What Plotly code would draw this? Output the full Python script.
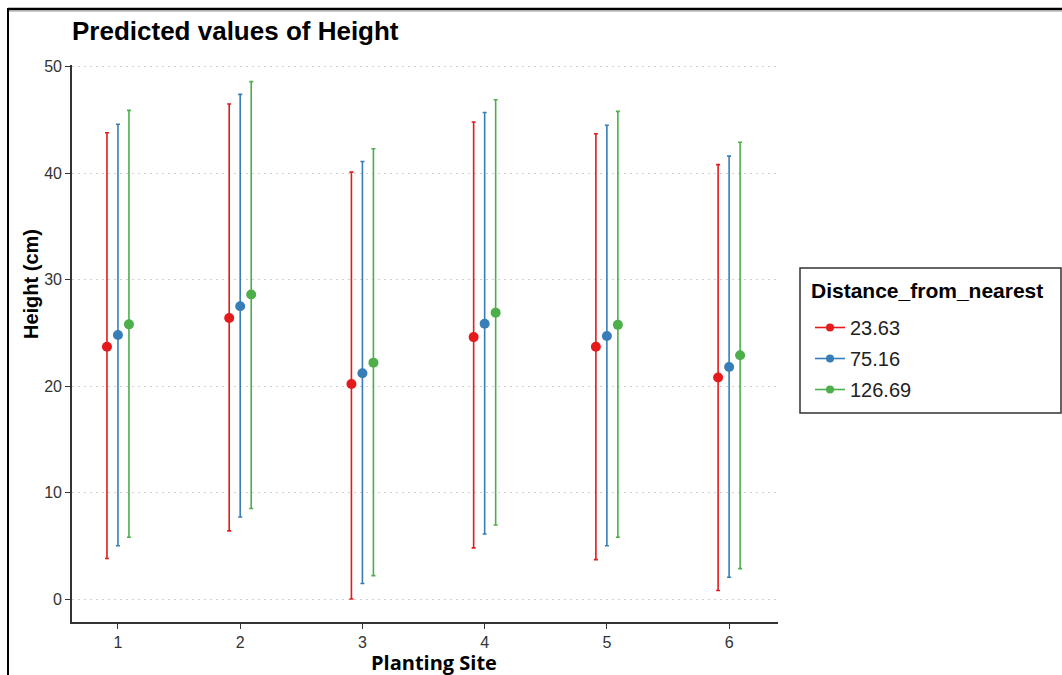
import plotly.graph_objects as go

# Planting sites on the x axis
sites = [1, 2, 3, 4, 5, 6]

# Distance levels (legend) and their colours
distance_levels = ["23.63", "75.16", "126.69"]
level_colors = ["#E41A1C", "#377EB8", "#4DAF4A"]
dodge = [-0.09, 0.0, 0.09]

# Predicted height per site for each distance level
pred_23 = [23.7, 26.4, 20.2, 24.6, 23.7, 20.8]
pred_75 = [24.8, 27.5, 21.2, 25.85, 24.7, 21.8]
pred_126 = [25.8, 28.6, 22.2, 26.9, 25.75, 22.9]

# Upper confidence limits
upper_23 = [43.8, 46.5, 40.1, 44.8, 43.7, 40.8]
upper_75 = [44.6, 47.4, 41.1, 45.7, 44.5, 41.6]
upper_126 = [45.9, 48.6, 42.3, 46.9, 45.8, 42.9]

# Lower confidence limits
lower_23 = [3.8, 6.4, 0.0, 4.8, 3.7, 0.8]
lower_75 = [5.0, 7.7, 1.45, 6.1, 5.0, 2.05]
lower_126 = [5.8, 8.5, 2.2, 6.95, 5.8, 2.85]

y_ticks = [0, 10, 20, 30, 40, 50]

preds = [pred_23, pred_75, pred_126]
uppers = [upper_23, upper_75, upper_126]
lowers = [lower_23, lower_75, lower_126]

W, H = 1062, 675
L, R, T, B = 72, 778, 65, 622  # plot area in pixels


def px(xp):
    return (xp - L) / (R - L)


def py(yp):
    return (B - yp) / (B - T)


fig = go.Figure()

for name, col, off, p, up, lo in zip(distance_levels, level_colors, dodge, preds, uppers, lowers):
    fig.add_trace(go.Scatter(
        x=[s + off for s in sites],
        y=p,
        mode="markers",
        marker=dict(color=col, size=10, symbol="circle"),
        error_y=dict(
            type="data",
            symmetric=False,
            array=[u - v for u, v in zip(up, p)],
            arrayminus=[v - l for v, l in zip(p, lo)],
            color=col,
            thickness=1.6,
            width=2,
        ),
        legendgroup=name,
        showlegend=False,
        hoverinfo="x+y",
    ))
    # legend key: line with point
    fig.add_trace(go.Scatter(
        x=[None], y=[None],
        mode="lines+markers",
        name=name,
        line=dict(color=col, width=1.6),
        marker=dict(color=col, size=8),
        legendgroup=name,
        showlegend=True,
    ))

shapes = [
    # outer frame
    dict(type="line", xref="paper", yref="paper", x0=px(8), x1=px(1070), y0=py(9), y1=py(9),
         line=dict(color="black", width=2.5)),
    dict(type="line", xref="paper", yref="paper", x0=px(8), x1=px(1070), y0=py(11), y1=py(11),
         line=dict(color="#9a9a9a", width=1)),
    dict(type="line", xref="paper", yref="paper", x0=px(8), x1=px(8), y0=py(8), y1=py(690),
         line=dict(color="black", width=2)),
    # legend box
    dict(type="rect", xref="paper", yref="paper", x0=px(800), x1=px(1061), y0=py(413), y1=py(268),
         line=dict(color="#333333", width=1.5), fillcolor="rgba(0,0,0,0)"),
]

annotations = [
    dict(text="<b>Height (cm)</b>", xref="paper", yref="paper", x=px(31), y=py(284),
         textangle=-90, showarrow=False, xanchor="center", yanchor="middle",
         font=dict(family="Liberation Sans, Arial", size=20, color="black")),
    dict(text="<b>Planting Site</b>", xref="paper", yref="paper", x=px(434), y=py(662),
         showarrow=False, xanchor="center", yanchor="middle",
         font=dict(family="Open Sans, Liberation Sans", size=20, color="black")),
    # legend heading
    dict(text="<b>Distance_from_nearest</b>", xref="paper", yref="paper", x=px(809), y=py(290),
         showarrow=False, xanchor="left", yanchor="middle",
         font=dict(family="Liberation Sans, Arial", size=21, color="black")),
]

tick_font = dict(family="Liberation Sans, Arial", size=16, color="#333333")

fig.update_layout(
    width=W, height=H,
    margin=dict(l=L, r=W - R, t=T, b=H - B),
    paper_bgcolor="white",
    plot_bgcolor="white",
    title=dict(
        text="<b>Predicted values of Height</b>",
        xref="container", yref="container",
        x=L / W, xanchor="left", y=1 - 31 / H, yanchor="middle",
        font=dict(family="Liberation Sans, Arial", size=26, color="black"),
    ),
    xaxis=dict(
        range=[0.624, 6.40],
        tickvals=sites,
        ticktext=[str(s) for s in sites],
        showgrid=False, zeroline=False,
        showline=True, linecolor="#333333", linewidth=1.6,
        ticks="outside", ticklen=5, tickcolor="#333333", tickwidth=1.3,
        tickfont=tick_font,
    ),
    yaxis=dict(
        range=[-2.16, 50.16],
        tickvals=y_ticks,
        showgrid=True, gridcolor="#cfcfcf", griddash="2px,4px", gridwidth=1.2,
        zeroline=False,
        showline=True, linecolor="#333333", linewidth=1.6,
        ticks="outside", ticklen=5, tickcolor="#333333", tickwidth=1.3,
        tickfont=tick_font,
    ),
    legend=dict(
        x=px(810), y=py(308), xanchor="left", yanchor="top",
        font=dict(family="Liberation Sans, Arial", size=20, color="#222222"),
        bgcolor="rgba(0,0,0,0)",
        traceorder="grouped", tracegroupgap=2,
        itemwidth=30,
    ),
    shapes=shapes,
    annotations=annotations,
    showlegend=True,
)

fig.write_html("out.html")
